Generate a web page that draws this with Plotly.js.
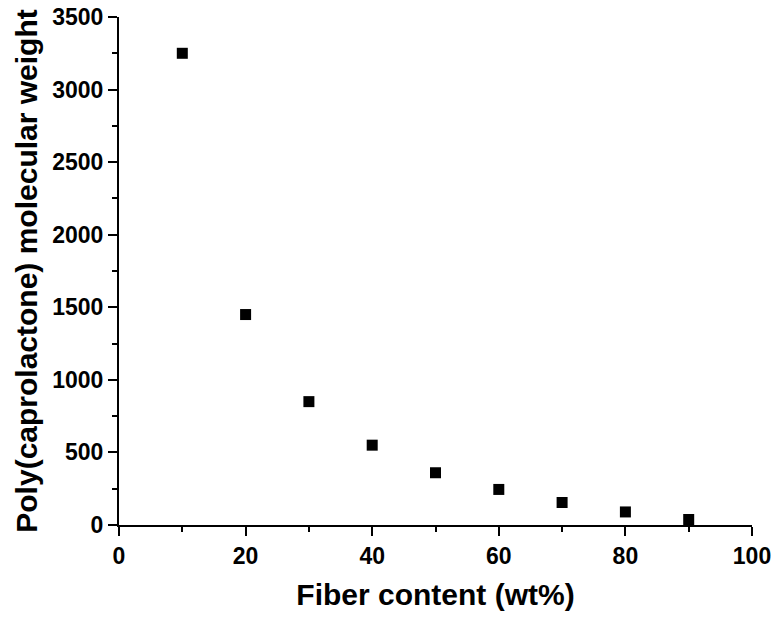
<!DOCTYPE html>
<html>
<head>
<meta charset="utf-8">
<script src="https://cdn.plot.ly/plotly-3.0.1.min.js"></script>
<style>html,body{margin:0;padding:0;background:#fff;}#chart{width:779px;height:622px;}</style>
</head>
<body>
<div id="chart"></div>
<script>
const fiberContent = [10, 20, 30, 40, 50, 60, 70, 80, 90];
const molecularWeight = [3250, 1450, 850, 550, 360, 245, 155, 90, 38];
const xTickVals = [0, 20, 40, 60, 80, 100];
const yTickVals = [0, 500, 1000, 1500, 2000, 2500, 3000, 3500];

const font = {family: 'Liberation Sans, Arial, sans-serif', color: '#000'};

Plotly.newPlot('chart', [{
  x: fiberContent,
  y: molecularWeight,
  type: 'scatter',
  mode: 'markers',
  marker: {symbol: 'square', size: 11, color: '#000'},
  showlegend: false,
  cliponaxis: false
}], {
  width: 779, height: 622,
  margin: {l: 119, r: 27, t: 17, b: 97},
  paper_bgcolor: '#fff', plot_bgcolor: '#fff',
  xaxis: {
    range: [0, 100], tickvals: xTickVals, ticktext: xTickVals.map(String),
    showgrid: false, zeroline: false, showline: true, linecolor: '#000', linewidth: 2,
    ticks: 'outside', ticklen: 9, tickwidth: 2, tickcolor: '#000',
    minor: {ticks: 'outside', ticklen: 5, tickwidth: 2, tickcolor: '#000', dtick: 10, showgrid: false},
    tickfont: Object.assign({size: 23, weight: 'bold'}, font),
    title: {text: '<b>Fiber content (wt%)</b>', font: Object.assign({size: 30}, font), standoff: 16}
  },
  yaxis: {
    range: [0, 3500], tickvals: yTickVals, ticktext: yTickVals.map(String),
    showgrid: false, zeroline: false, showline: true, linecolor: '#000', linewidth: 2,
    ticks: 'outside', ticklen: 9, tickwidth: 2, tickcolor: '#000',
    minor: {ticks: 'outside', ticklen: 5, tickwidth: 2, tickcolor: '#000', dtick: 250, showgrid: false},
    tickfont: Object.assign({size: 23, weight: 'bold'}, font),
    title: {text: '<b>Poly(caprolactone) molecular weight</b>', font: Object.assign({size: 30}, font), standoff: 6}
  }
}, {staticPlot: true});
</script>
</body>
</html>
